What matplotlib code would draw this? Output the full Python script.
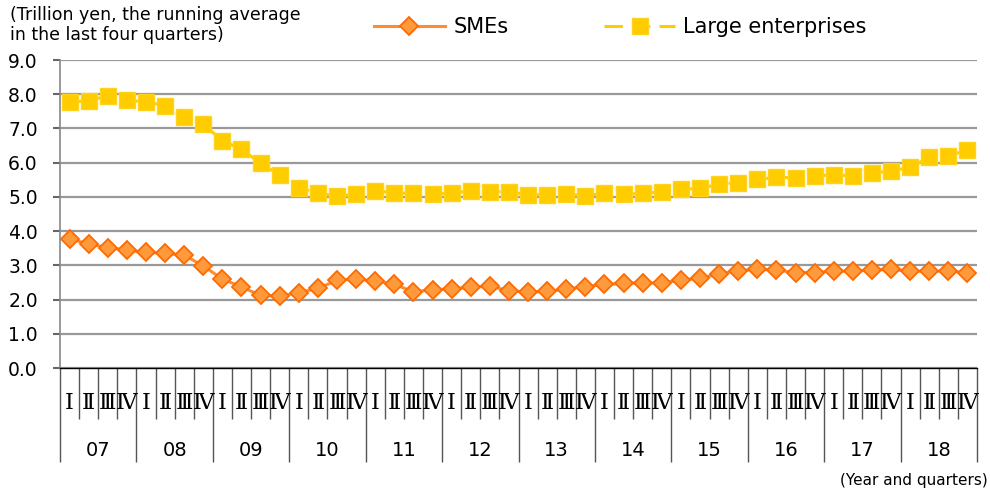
import matplotlib.pyplot as plt
import numpy as np
from matplotlib import transforms

# data (trillion yen, 4-quarter running average)
years = ['07', '08', '09', '10', '11', '12', '13', '14', '15', '16', '17', '18']
quarters = ['Ⅰ', 'Ⅱ', 'Ⅲ', 'Ⅳ']

smes = [3.78, 3.62, 3.52, 3.45, 3.38, 3.35, 3.30, 2.98,
        2.60, 2.37, 2.12, 2.10, 2.20, 2.33, 2.56, 2.60,
        2.54, 2.45, 2.22, 2.29, 2.31, 2.36, 2.39, 2.26,
        2.22, 2.24, 2.30, 2.38, 2.44, 2.47, 2.49, 2.48,
        2.57, 2.62, 2.75, 2.84, 2.88, 2.86, 2.79, 2.79,
        2.83, 2.83, 2.86, 2.88, 2.83, 2.83, 2.83, 2.79]

large = [7.77, 7.81, 7.95, 7.83, 7.77, 7.67, 7.33, 7.12,
         6.64, 6.39, 5.98, 5.64, 5.27, 5.10, 5.03, 5.07,
         5.18, 5.12, 5.10, 5.07, 5.12, 5.17, 5.15, 5.15,
         5.06, 5.06, 5.07, 5.04, 5.10, 5.08, 5.10, 5.15,
         5.22, 5.25, 5.37, 5.42, 5.51, 5.57, 5.56, 5.62,
         5.64, 5.62, 5.69, 5.76, 5.86, 6.16, 6.20, 6.37]

n = len(smes)
x = np.arange(n) + 0.5

fig = plt.figure(figsize=(9.9, 4.91), dpi=100)
ax = fig.add_axes([60/990, 1-368/491, 917/990, 308/491])

ax.plot(x, smes, '-', color='#FF8C2E', lw=2.2, marker='D', ms=9.5,
        mfc='#FF9A3C', mec='#FF6A00', mew=1.3, label='SMEs')
ax.plot(x, large, '--', color='#FFCC00', lw=2.2, marker='s', ms=11,
        mfc='#FFCC00', mec='#FFD21F', mew=1, dashes=(6, 3),
        label='Large enterprises')

ax.set_xlim(0, n)
ax.set_ylim(0, 9)
ax.set_yticks(np.arange(0, 9.01, 1.0))
ax.set_yticklabels(['%.1f' % v for v in np.arange(0, 9.01, 1.0)], fontsize=13.5)
ax.yaxis.grid(True, color='#999999', lw=1.6)
ax.set_axisbelow(True)

for s in ['top', 'right']:
    ax.spines[s].set_visible(False)
ax.spines['left'].set_color('#888888')
ax.spines['left'].set_linewidth(1.2)
ax.spines['bottom'].set_color('black')
ax.spines['bottom'].set_linewidth(1.0)
ax.tick_params(axis='y', length=5, width=1.5, color='#666666', pad=11)

# category axis: quarter and year separators
ax.set_xticks(np.arange(0, n + 1, 4))
ax.set_xticks(np.arange(0, n + 1, 1), minor=True)
ax.tick_params(axis='x', which='major', length=68, width=1.0, color='#555555',
               labelbottom=False)
ax.tick_params(axis='x', which='minor', length=37, width=1.0, color='#555555')

trans = transforms.blended_transform_factory(ax.transData, fig.transFigure)
for i in range(n):
    ax.text(x[i], 1-403/491, quarters[i % 4], transform=trans, ha='center',
            va='center', fontsize=16, family=['DejaVu Serif', 'Noto Sans CJK JP'])
for j, yr in enumerate(years):
    ax.text(4*j + 2, 1-450/491, yr, transform=trans, ha='center',
            va='center', fontsize=14)

fig.text(988/990, 1-480/491, '(Year and quarters)', ha='right', va='center',
         fontsize=11)
fig.text(10/990, 1-25/491, '(Trillion yen, the running average\nin the last four quarters)',
         ha='left', va='center', fontsize=12.5, linespacing=1.15)

fig.legend(loc='center left', bbox_to_anchor=(374/990, 1-27/491), ncol=2,
           frameon=False, fontsize=15, handlelength=3.4, handletextpad=0.4,
           columnspacing=4.6, borderpad=0, borderaxespad=0)

fig.savefig('out.png', dpi=100)
